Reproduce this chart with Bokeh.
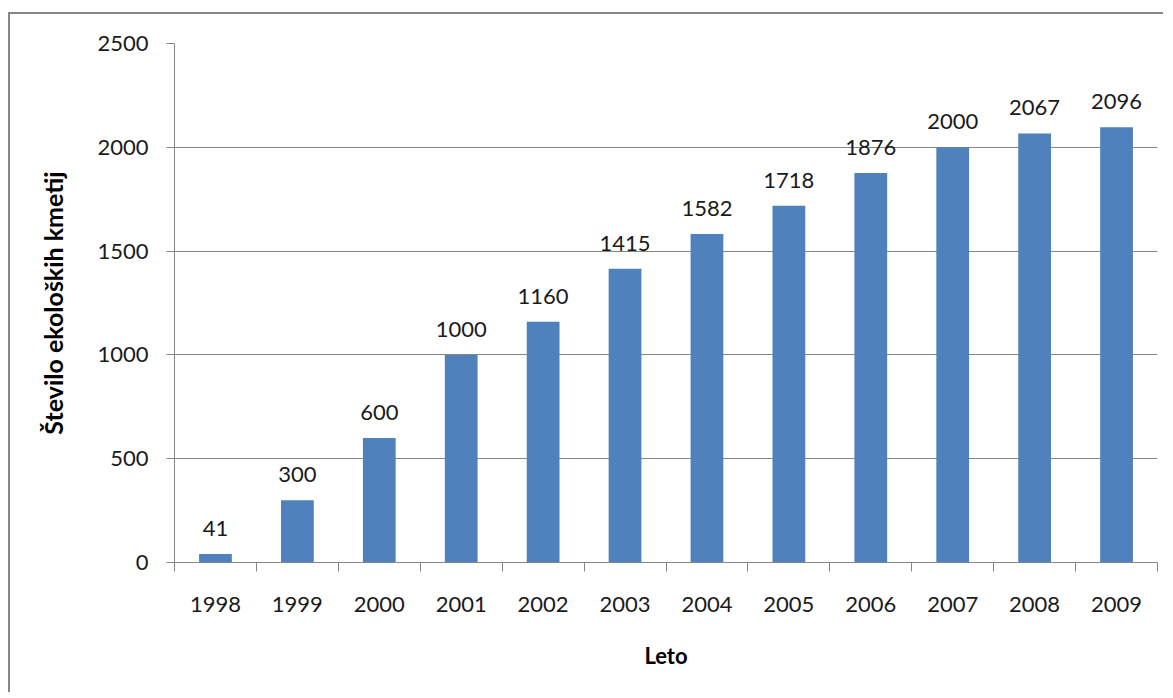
from bokeh.plotting import figure
from bokeh.models import ColumnDataSource, FixedTicker, LabelSet
from bokeh.core.properties import value
from bokeh.embed import file_html
from bokeh.resources import INLINE

years = ["1998", "1999", "2000", "2001", "2002", "2003",
         "2004", "2005", "2006", "2007", "2008", "2009"]
farms = [41, 300, 600, 1000, 1160, 1415, 1582, 1718, 1876, 2000, 2067, 2096]
y_ticks = [0, 500, 1000, 1500, 2000, 2500]

FONT = "Lato"
GRAY = "#868686"
BAR = "#4F81BD"

idx = list(range(len(years)))
src = ColumnDataSource(dict(x=idx, top=farms, label=[str(v) for v in farms]))

p = figure(width=1155, height=680,
           x_range=(-0.5, len(years) - 0.5), y_range=(0, 2500),
           output_backend="svg", toolbar_location=None,
           min_border_left=164, min_border_top=29,
           min_border_right=8, min_border_bottom=132)
p.styles = {"border-top": f"2px solid {GRAY}", "border-left": f"2px solid {GRAY}",
            "margin-top": "12px", "margin-left": "8px"}
p.outline_line_color = None
p.background_fill_color = "white"
p.border_fill_color = "white"

p.vbar(x="x", top="top", width=0.4, source=src, fill_color=BAR, line_color=None)

labels = LabelSet(x="x", y="top", text="label", source=src, y_offset=18,
                  text_align="center", text_baseline="alphabetic",
                  text_font=value(FONT), text_font_size=value("22px"),
                  text_color="#1a1a1a")
p.add_layout(labels)

# grid
p.xgrid.visible = False
p.ygrid.ticker = FixedTicker(ticks=y_ticks)
p.ygrid.grid_line_color = GRAY
p.ygrid.grid_line_width = 1

# y axis
p.yaxis.ticker = FixedTicker(ticks=y_ticks)
p.yaxis.axis_line_color = GRAY
p.yaxis.major_tick_line_color = GRAY
p.yaxis.major_tick_out = 8
p.yaxis.major_tick_in = 0
p.yaxis.minor_tick_line_color = None
p.yaxis.major_label_standoff = 18
p.yaxis.major_label_text_font = FONT
p.yaxis.major_label_text_font_size = "22px"
p.yaxis.major_label_text_color = "#1a1a1a"
p.yaxis.axis_label = "Število ekoloških kmetij"
p.yaxis.axis_label_text_font = FONT
p.yaxis.axis_label_text_font_style = "bold"
p.yaxis.axis_label_text_font_size = "25px"
p.yaxis.axis_label_text_color = "#000000"
p.yaxis.axis_label_standoff = 26

# x axis
p.xaxis.ticker = FixedTicker(ticks=idx, minor_ticks=[i - 0.5 for i in range(len(years) + 1)])
p.xaxis.major_label_overrides = {i: y for i, y in zip(idx, years)}
p.xaxis.axis_line_color = GRAY
p.xaxis.major_tick_line_color = None
p.xaxis.major_tick_out = 0
p.xaxis.major_tick_in = 0
p.xaxis.minor_tick_line_color = GRAY
p.xaxis.minor_tick_out = 9
p.xaxis.minor_tick_in = 0
p.xaxis.major_label_standoff = 25
p.xaxis.major_label_text_font = FONT
p.xaxis.major_label_text_font_size = "22px"
p.xaxis.major_label_text_color = "#1a1a1a"
p.xaxis.axis_label = "Leto"
p.xaxis.axis_label_text_font = FONT
p.xaxis.axis_label_text_font_style = "bold"
p.xaxis.axis_label_text_font_size = "22px"
p.xaxis.axis_label_text_color = "#000000"
p.xaxis.axis_label_standoff = 27

open("out.html", "w").write(file_html(p, INLINE))
